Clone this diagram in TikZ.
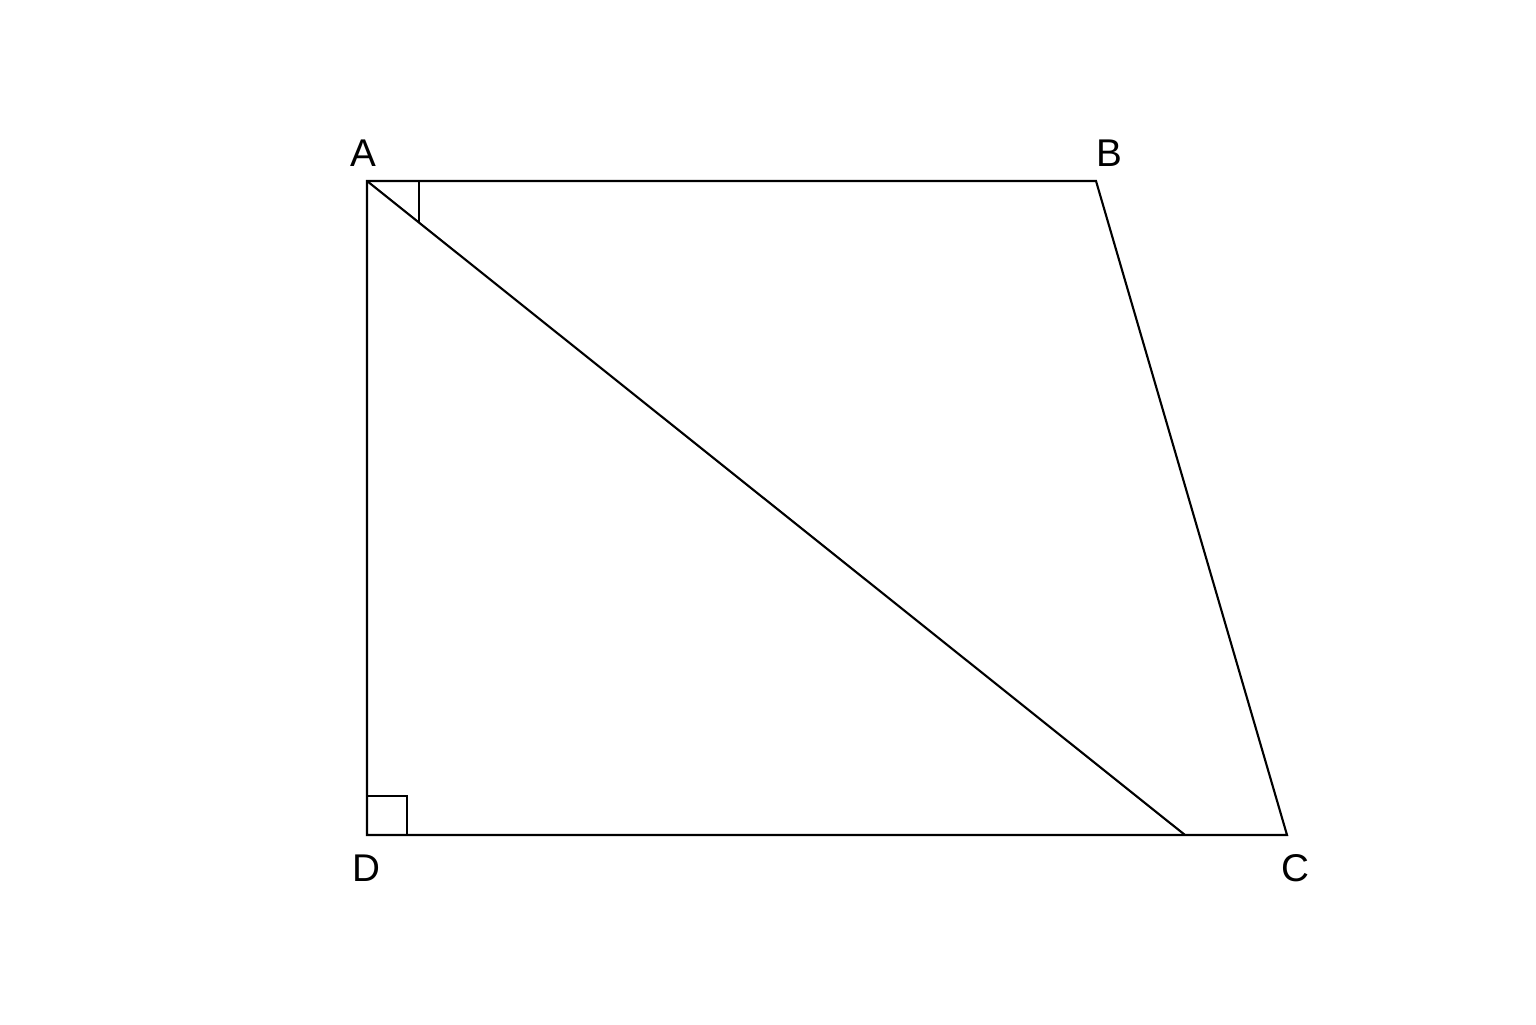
\documentclass[tikz,border=0pt]{standalone}
\usepackage{fontspec}
\setmainfont{Liberation Sans}
\usetikzlibrary{calc}
\begin{document}
\begin{tikzpicture}[line width=0.6pt,
    lettre/.style={font=\fontsize{11}{13}\selectfont}]
                \useasboundingbox (0,0) rectangle (15.36,10.24);
                \coordinate (A) at (3.67,8.43);
                \coordinate (B) at (10.96,8.43);
                \coordinate (C) at (12.87,1.89);
                \coordinate (D) at (3.67,1.89);
                \coordinate (E) at (11.85,1.89);
                \draw (A)--(B)--(C)--(D)--cycle;
                \draw (A)--(E);
                % angles droits
                \draw (D)++(0,0.39)--++(0.40,0)--++(0,-0.39);
                \coordinate (F) at ($(A)!0.0636!(E)$);
                \draw (F)--(F |- A);
                \node[lettre] (lA) at (3.63,8.71) {A};
                \node[lettre] (lB) at (11.09,8.71) {B};
                \node[lettre] (lC) at (12.95,1.56) {C};
                \node[lettre] (lD) at (3.66,1.56) {D};
            \end{tikzpicture}
\end{document}
